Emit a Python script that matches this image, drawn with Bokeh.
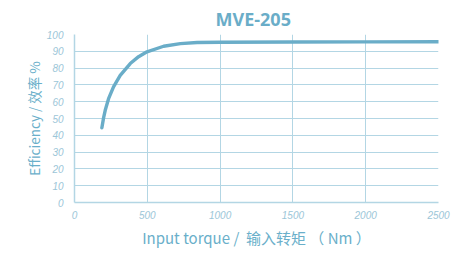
from bokeh.plotting import figure
from bokeh.models import Range1d, FixedTicker
from bokeh.embed import file_html
from bokeh.resources import INLINE

torque = [188, 200, 211, 234, 268, 314, 383, 440, 498, 612, 727, 842, 1000, 1500, 2000, 2500]
efficiency = [44.5, 50.5, 54.9, 61.8, 68.8, 75.7, 82.7, 86.8, 89.7, 93.0, 94.6, 95.2, 95.4, 95.5, 95.6, 95.7]
x_ticks = [0, 500, 1000, 1500, 2000, 2500]
y_ticks = [0, 10, 20, 30, 40, 50, 60, 70, 80, 90, 100]
x_title = "Input torque /\u00a0\u00a0输入转矩 （ Nm ）"
y_title = "Efficiency / 效率 %"

LINE = "#6aadc8"
GRID = "#b3d6e4"
TICK = "#9cc6d8"
LABEL = "#6aafca"

p = figure(frame_width=364, frame_height=168, output_backend="svg", toolbar_location=None,
           x_range=Range1d(0, 2500), y_range=Range1d(0, 100),
           min_border_left=74, min_border_right=18, min_border_top=34, min_border_bottom=40,
           title="MVE-205")
p.title.align = "left"
p.title.text_font = "Open Sans"
p.title.text_font_size = "18px"
p.title.text_font_style = "bold"
p.title.text_color = LINE
p.title.offset = 141
p.title.standoff = 7
p.outline_line_color = None

p.line(torque, efficiency, line_color=LINE, line_width=3.4, line_cap="round")

for ax in (p.xaxis[0], p.yaxis[0]):
    ax.axis_line_color = GRID
    ax.axis_line_width = 1.5
    ax.major_tick_line_color = None
    ax.minor_tick_line_color = None
    ax.major_label_text_color = TICK
    ax.major_label_text_font = "Liberation Sans"
    ax.major_label_text_font_style = "italic"
    ax.major_label_text_font_size = "10px"
    ax.axis_label_text_color = LABEL
    ax.axis_label_text_font = "Noto Sans CJK SC"
    ax.axis_label_text_font_style = "normal"

p.xaxis.major_label_standoff = 2
p.yaxis.major_label_standoff = 5
p.xaxis.ticker = FixedTicker(ticks=x_ticks)
p.yaxis.ticker = FixedTicker(ticks=y_ticks)
p.xaxis.axis_label = x_title
p.xaxis.axis_label_text_font_size = "15px"
p.xaxis.axis_label_standoff = 5
p.yaxis.axis_label = y_title
p.yaxis.axis_label_text_font_size = "13.5px"
p.yaxis.axis_label_standoff = 0

p.xgrid.grid_line_color = GRID
p.ygrid.grid_line_color = GRID
p.xgrid.grid_line_width = 1
p.ygrid.grid_line_width = 1

open("out.html", "w").write(file_html(p, INLINE))
